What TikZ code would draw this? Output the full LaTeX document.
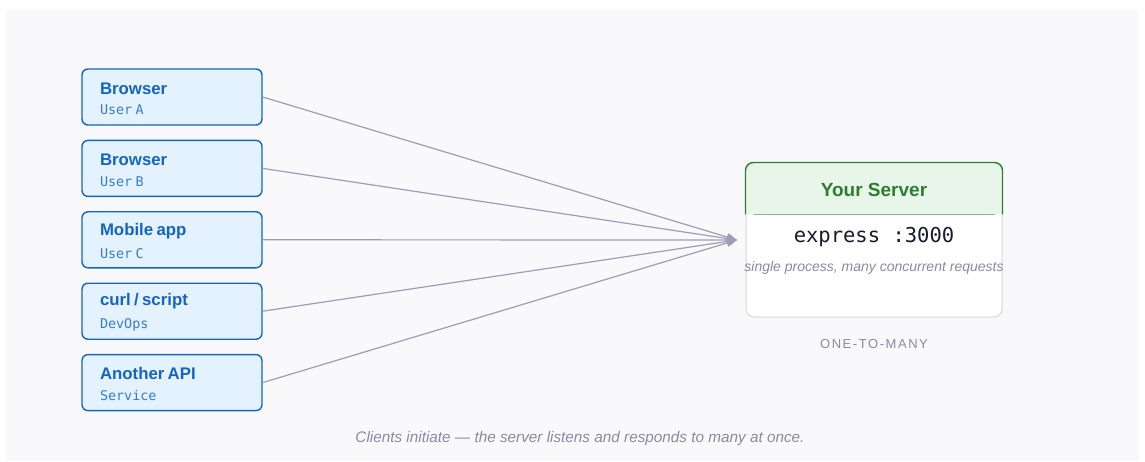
\documentclass[tikz,border=0pt]{standalone}
\usepackage{fontspec}
\setmainfont{Liberation Sans}
\setsansfont{Liberation Sans}
\setmonofont{DejaVu Sans Mono}
\usetikzlibrary{arrows.meta,positioning,calc}
\definecolor{panelbg}{RGB}{249,249,252}
\definecolor{clientfill}{RGB}{227,242,253}
\definecolor{clientblue}{RGB}{21,101,192}
\definecolor{wireclr}{RGB}{160,156,180}
\definecolor{mutedtext}{RGB}{138,138,163}
\definecolor{servergreen}{RGB}{46,125,50}
\definecolor{headfill}{RGB}{232,245,233}
\definecolor{serverline}{RGB}{214,214,222}
\definecolor{inktext}{RGB}{26,26,46}
\tikzset{
  client/.style={
    draw=clientblue,
    fill=clientfill,
    rounded corners=6pt,
    line width=1.4pt,
    align=left,
    text width=144pt,
    minimum width=180pt,
    minimum height=56pt,
    inner xsep=18pt,
    text=clientblue
  },
  wire/.style={-{Triangle[length=10pt,width=8pt]}, draw=wireclr, line width=1.2pt}
}
\newcommand{\clienttext}[2]{{\fontsize{16.8}{19}\selectfont\bfseries\rule{0pt}{15pt}#1}\\[8.5pt]{\fontsize{13.4}{16}\selectfont\ttfamily\color{clientblue!85}#2}}

\begin{document}
\begin{tikzpicture}[x=1pt,y=1pt]
        \useasboundingbox (0,0) rectangle (1145,461);
        \fill[panelbg] (6,0) rectangle (1139,451);
        % clients
        \node[client] (browsera) at (172,364) {\clienttext{Browser}{User~A}};
        \node[client, below=14pt of browsera] (browserb) {\clienttext{Browser}{User~B}};
        \node[client, below=14pt of browserb] (mobile) {\clienttext{Mobile app}{User~C}};
        \node[client, below=14pt of mobile] (curl) {\clienttext{curl / script}{DevOps}};
        \node[client, below=14pt of curl] (api) {\clienttext{Another API}{Service}};
        % server
        \node[draw=serverline, fill=white, rounded corners=8pt, line width=1pt,
              minimum width=256pt, minimum height=154pt] (server) at (874,221) {};
        \filldraw[fill=headfill, draw=servergreen, line width=1.4pt, rounded corners=8pt]
          ($(server.north west)+(0,-52)$) -- (server.north west) -- (server.north east) -- ($(server.north east)+(0,-52)$);
        \draw[servergreen!55, line width=1pt] ($(server.north west)+(8,-52)$) -- ($(server.north east)+(-8,-52)$);
        \node[text=servergreen, font=\fontsize{19}{21}\selectfont\bfseries] (title) at ($(server.north)+(0,-27)$) {Your Server};
        \node[text=inktext, font=\fontsize{20.5}{22}\selectfont\ttfamily] (port) at ($(server.north)+(0,-75)$) {express :3000};
        \node[text=mutedtext, font=\fontsize{14}{16}\selectfont\itshape] (note) at ($(server.north)+(0,-105)$) {single process, many concurrent requests};
        \node[text=mutedtext, font=\fontsize{13}{15}\selectfont\addfontfeature{LetterSpace=12}, below=18pt of server] (kind) {ONE-TO-MANY};
        % connectors
        \coordinate (hub) at (737,221);
        \draw[wire] (browsera.east) -- (hub);
        \draw[wire] (browserb.east) -- (hub);
        \draw[wire] (mobile.east) -- (hub);
        \draw[wire] (curl.east) -- (hub);
        \draw[wire] (api.east) -- (hub);
        \node[text=mutedtext, font=\fontsize{15.3}{17}\selectfont\itshape] (caption) at (580,22) {Clients initiate — the server listens and responds to many at once.};
      \end{tikzpicture}
\end{document}
